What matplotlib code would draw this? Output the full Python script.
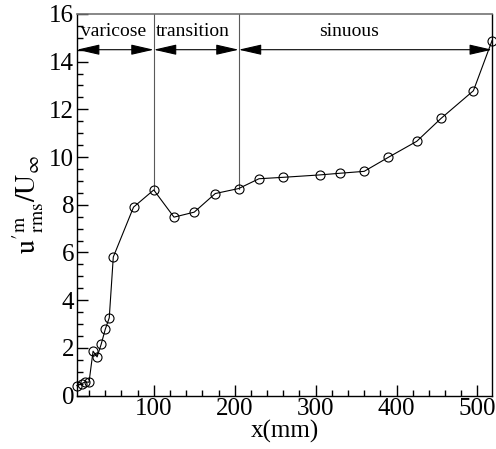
import matplotlib
matplotlib.use("Agg")
from matplotlib import pyplot as plt
from matplotlib.ticker import MultipleLocator

# Streamwise position (mm) and rms amplitude
x_mm = [5, 11, 15, 20, 25, 30, 35, 40, 45, 50, 75, 100, 125, 150, 176, 205,
        230, 260, 305, 330, 360, 390, 425, 455, 495, 518]
u_rms = [0.42, 0.50, 0.57, 0.56, 1.86, 1.62, 2.15, 2.77, 3.26, 5.81, 7.90, 8.62,
         7.48, 7.69, 8.47, 8.68, 9.09, 9.15, 9.25, 9.32, 9.40, 9.99, 10.66,
         11.62, 12.78, 14.88]

# Regime boundaries and labels
regions = ["varicose", "transition", "sinuous"]
bounds = [5, 100, 205, 518]
label_x = [50, 148, 341]

plt.rcParams["font.family"] = ["Liberation Serif", "DejaVu Serif"]
plt.rcParams["mathtext.fontset"] = "stix"

fig = plt.figure(figsize=(4.96, 4.49), dpi=100)
ax = fig.add_axes([0.155, 0.119, 0.837, 0.850])

ax.plot(x_mm, u_rms, color="black", lw=0.8, marker="o", ms=6.5,
        mfc="none", mec="black", mew=0.8, clip_on=False, zorder=3)

# vertical separators from the data point up to the top
for b in bounds[1:3]:
    yb = u_rms[x_mm.index(b)]
    ax.plot([b, b], [yb, 16], color="0.35", lw=0.8, zorder=2)

# regime arrows
for name, x0, x1, lx in zip(regions, bounds[:-1], bounds[1:], label_x):
    ax.annotate("", xy=(x0, 14.5), xytext=(x1, 14.5),
                arrowprops=dict(arrowstyle="<|-|>,head_length=1.4,head_width=0.32",
                                color="black", lw=0.8, shrinkA=0, shrinkB=0,
                                mutation_scale=10),
                annotation_clip=False)
    ax.text(lx, 14.9, name, ha="center", va="bottom", fontsize=14)

ax.set_xlim(5, 518)
ax.set_ylim(0, 16)
ax.xaxis.set_major_locator(MultipleLocator(100))
ax.xaxis.set_minor_locator(MultipleLocator(20))
ax.yaxis.set_major_locator(MultipleLocator(2))
ax.yaxis.set_minor_locator(MultipleLocator(0.5))
ax.tick_params(which="both", direction="in", top=False, right=False,
               labelsize=18, width=1, pad=2)
ax.tick_params(which="major", length=8)
ax.tick_params(which="minor", length=4)

for s in ["left", "bottom", "right"]:
    ax.spines[s].set_linewidth(1.0)
    ax.spines[s].set_color("black")
ax.spines["top"].set_color("0.45")
ax.spines["top"].set_linewidth(1.2)

ax.set_xlabel("x(mm)", fontsize=18, labelpad=0)
ax.set_ylabel(r"$\mathrm{u'^{m}_{rms}/U_{\infty}}$", fontsize=20, labelpad=2)

fig.savefig("out.png", dpi=100)
